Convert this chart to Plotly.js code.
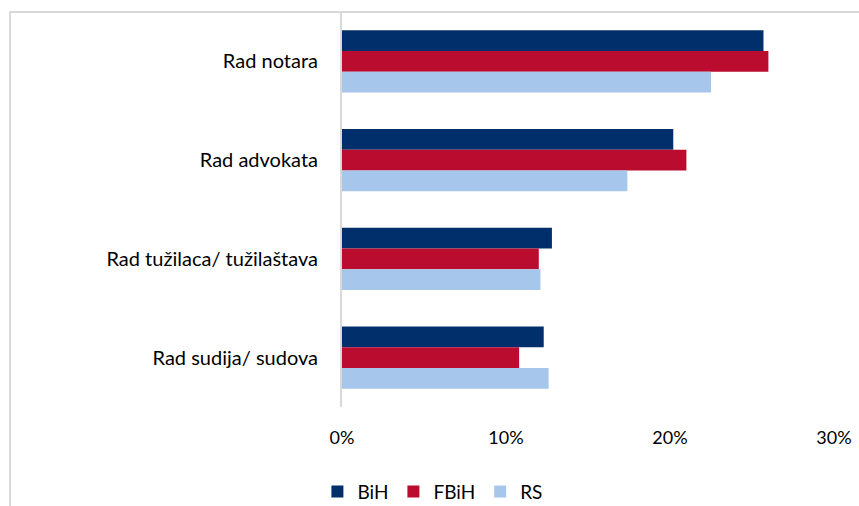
<!DOCTYPE html>
<html>
<head>
<meta charset="utf-8">
<script src="https://cdn.plot.ly/plotly-3.0.1.min.js"></script>
<style>
html,body{margin:0;padding:0;background:#fff;overflow:hidden;}
#frame{position:absolute;left:9px;top:11px;width:900px;height:600px;border:2px solid #d9d9d9;pointer-events:none;z-index:5;}
#chart{width:859px;height:506px;}
</style>
</head>
<body>
<div id="chart"></div>
<div id="frame"></div>
<script>
var categories = ["Rad notara", "Rad advokata", "Rad tužilaca/ tužilaštava", "Rad sudija/ sudova"];
var seriesNames = ["BiH", "FBiH", "RS"];
var bihValues = [25.7, 20.2, 12.8, 12.3];
var fbihValues = [26.0, 21.0, 12.0, 10.8];
var rsValues = [22.5, 17.4, 12.1, 12.6];
var xTickValues = [0, 10, 20, 30];
var xTickLabels = ["0%", "10%", "20%", "30%"];
var colors = ["#012f6b", "#ba0c2f", "#a7c6eb"];

var seriesValues = [bihValues, fbihValues, rsValues];
var traces = seriesNames.map(function(name, i){
  return {
    type: 'bar', orientation: 'h', name: name,
    y: categories, x: seriesValues[i],
    marker: {color: colors[i], line: {width: 0}},
    hoverinfo: 'x+y'
  };
});

var fam = 'Lato, "Open Sans", sans-serif';
var layout = {
  width: 859, height: 506,
  margin: {l: 342, r: 25, t: 12, b: 99},
  paper_bgcolor: '#fff', plot_bgcolor: '#fff',
  font: {family: fam, size: 19, color: '#000'},
  barmode: 'group',
  bargap: 0.37, bargroupgap: 0,
  xaxis: {
    range: [0, 30], tickvals: xTickValues, ticktext: xTickLabels,
    showgrid: false, zeroline: false, showline: false, automargin: false,
    ticks: '', ticklabelstandoff: 18, tickfont: {family: fam, size: 18, color: '#000'}
  },
  yaxis: {
    autorange: 'reversed', type: 'category',
    showgrid: false, zeroline: false, automargin: false,
    showline: true, linecolor: '#d9d9d9', linewidth: 2,
    ticks: '', ticklabelstandoff: 18, tickfont: {family: fam, size: 20, color: '#000'}
  },
  showlegend: true,
  legend: {
    orientation: 'h', x: -0.05, xanchor: 'left',
    yref: 'container', y: 0.066, yanchor: 'top',
    font: {family: fam, size: 19, color: '#000'}, traceorder: 'normal', itemclick: false
  }
};
Plotly.newPlot('chart', traces, layout, {displayModeBar: false, staticPlot: true});
</script>
</body>
</html>
